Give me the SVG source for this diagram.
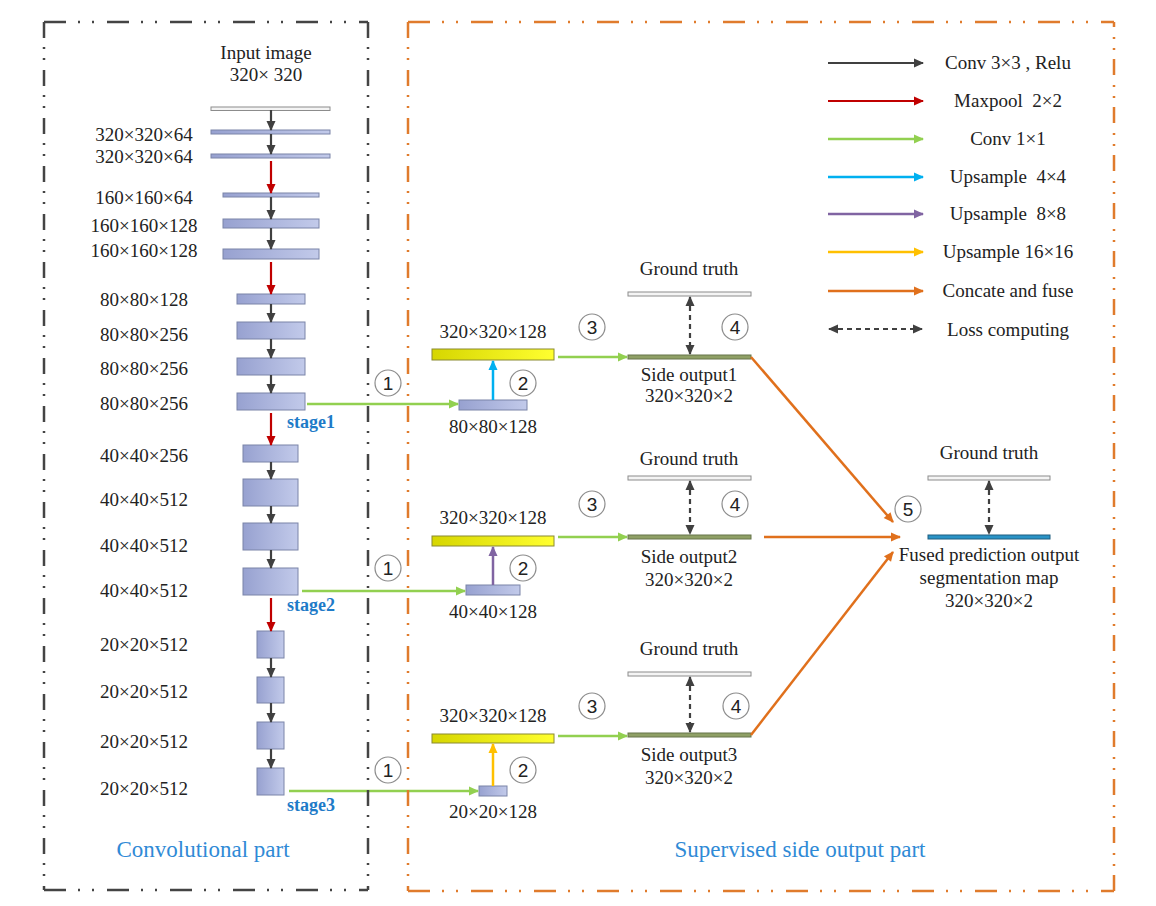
<svg xmlns="http://www.w3.org/2000/svg" width="1156" height="906" viewBox="0 0 1156 906">
<style>
.t{font-family:"Liberation Serif","Times New Roman",serif;font-size:19px;fill:#222;text-anchor:middle;white-space:pre}
.st{font-family:"Liberation Serif","Times New Roman",serif;font-size:18px;font-weight:bold;fill:#1E7BC8;text-anchor:middle}
.part{font-family:"Liberation Serif","Times New Roman",serif;font-size:23px;fill:#2F8AD6;text-anchor:middle}
.num{font-family:"Liberation Sans",Arial,sans-serif;font-size:19px;fill:#222;text-anchor:middle}
.blk{fill:url(#gb);stroke:#7A84A8;stroke-width:1}
.yel{fill:url(#gy);stroke:#8A8A30;stroke-width:1}
.gt{fill:#F4F4F4;stroke:#8C8C8C;stroke-width:1}
.so{fill:#8FA066;stroke:#66744A;stroke-width:1}
.fo{fill:#2A93C6;stroke:#1F5E80;stroke-width:1}
.cir{fill:#fff;stroke:#8C8C8C;stroke-width:1.2}
.k{stroke:#404040;stroke-width:2.2;fill:none;marker-end:url(#ak)}
.r{stroke:#C00000;stroke-width:2.2;fill:none;marker-end:url(#ar)}
.g{stroke:#92D050;stroke-width:2.5;fill:none;marker-end:url(#ag)}
.b{stroke:#00B0F0;stroke-width:2.5;fill:none;marker-end:url(#ab)}
.p{stroke:#8064A2;stroke-width:2.5;fill:none;marker-end:url(#ap)}
.y{stroke:#FFC000;stroke-width:2.5;fill:none;marker-end:url(#ay)}
.o{stroke:#E0701C;stroke-width:2.5;fill:none;marker-end:url(#ao)}
.l{stroke:#404040;stroke-width:2.2;fill:none;stroke-dasharray:5 4;marker-end:url(#ak);marker-start:url(#ak)}
.bl{stroke:#444;stroke-width:2.5;fill:none}
.bo{stroke:#E07B2C;stroke-width:2.5;fill:none}
.h{stroke-dasharray:22 12 2 12 2 13}
.v{stroke-dasharray:16 9 2 9 2 10}
</style>
<defs>
<linearGradient id="gb" x1="0" y1="0" x2="1" y2="0"><stop offset="0" stop-color="#97A1D0"/><stop offset="1" stop-color="#C2CAEA"/></linearGradient>
<linearGradient id="gy" x1="0" y1="0" x2="1" y2="0"><stop offset="0" stop-color="#D6D600"/><stop offset="1" stop-color="#FFFF30"/></linearGradient>
<marker id="ak" viewBox="0 0 10 10" refX="9" refY="5" markerWidth="11" markerHeight="10" markerUnits="userSpaceOnUse" orient="auto-start-reverse"><path d="M0,0.5 L10,5 L0,9.5 z" fill="#404040"/></marker>
<marker id="ar" viewBox="0 0 10 10" refX="9" refY="5" markerWidth="11" markerHeight="10" markerUnits="userSpaceOnUse" orient="auto"><path d="M0,0.5 L10,5 L0,9.5 z" fill="#C00000"/></marker>
<marker id="ag" viewBox="0 0 10 10" refX="9" refY="5" markerWidth="12" markerHeight="10" markerUnits="userSpaceOnUse" orient="auto"><path d="M0,0.5 L10,5 L0,9.5 z" fill="#92D050"/></marker>
<marker id="ab" viewBox="0 0 10 10" refX="9" refY="5" markerWidth="12" markerHeight="10" markerUnits="userSpaceOnUse" orient="auto"><path d="M0,0.5 L10,5 L0,9.5 z" fill="#00B0F0"/></marker>
<marker id="ap" viewBox="0 0 10 10" refX="9" refY="5" markerWidth="12" markerHeight="10" markerUnits="userSpaceOnUse" orient="auto"><path d="M0,0.5 L10,5 L0,9.5 z" fill="#8064A2"/></marker>
<marker id="ay" viewBox="0 0 10 10" refX="9" refY="5" markerWidth="12" markerHeight="10" markerUnits="userSpaceOnUse" orient="auto"><path d="M0,0.5 L10,5 L0,9.5 z" fill="#FFC000"/></marker>
<marker id="ao" viewBox="0 0 10 10" refX="9" refY="5" markerWidth="12" markerHeight="10" markerUnits="userSpaceOnUse" orient="auto"><path d="M0,0.5 L10,5 L0,9.5 z" fill="#E0701C"/></marker>
</defs>
<rect width="1156" height="906" fill="#fff"/>

<g id="input">
<text class="t" x="266" y="59">Input image</text>
<text class="t" x="266" y="81">320× 320</text>
<rect class="gt" x="211" y="107" width="119" height="3.5"/>
</g>
<g id="l1"><rect class="blk" x="211" y="130" width="119" height="4"/><text class="t" x="144" y="141">320×320×64</text></g>
<g id="l2"><rect class="blk" x="211" y="154" width="119" height="4"/><text class="t" x="144" y="163">320×320×64</text></g>
<g id="l3"><rect class="blk" x="223" y="193" width="96" height="4"/><text class="t" x="144" y="204">160×160×64</text></g>
<g id="l4"><rect class="blk" x="223" y="219" width="96" height="9"/><text class="t" x="144" y="232">160×160×128</text></g>
<g id="l5"><rect class="blk" x="223" y="249" width="96" height="10"/><text class="t" x="144" y="257">160×160×128</text></g>
<g id="l6"><rect class="blk" x="237" y="294" width="68" height="10"/><text class="t" x="144" y="306">80×80×128</text></g>
<g id="l7"><rect class="blk" x="237" y="322" width="68" height="17"/><text class="t" x="144" y="341">80×80×256</text></g>
<g id="l8"><rect class="blk" x="237" y="358" width="68" height="17"/><text class="t" x="144" y="375">80×80×256</text></g>
<g id="l9"><rect class="blk" x="237" y="393" width="68" height="17"/><text class="t" x="144" y="410">80×80×256</text><text class="st" x="311" y="428">stage1</text></g>
<g id="l10"><rect class="blk" x="243" y="445" width="55" height="17"/><text class="t" x="144" y="462">40×40×256</text></g>
<g id="l11"><rect class="blk" x="243" y="479" width="55" height="27"/><text class="t" x="144" y="506">40×40×512</text></g>
<g id="l12"><rect class="blk" x="243" y="523" width="55" height="27"/><text class="t" x="144" y="552">40×40×512</text></g>
<g id="l13"><rect class="blk" x="243" y="568" width="55" height="27"/><text class="t" x="144" y="597">40×40×512</text><text class="st" x="311" y="611">stage2</text></g>
<g id="l14"><rect class="blk" x="257" y="631" width="27" height="27"/><text class="t" x="144" y="651">20×20×512</text></g>
<g id="l15"><rect class="blk" x="257" y="677" width="27" height="26"/><text class="t" x="144" y="698">20×20×512</text></g>
<g id="l16"><rect class="blk" x="257" y="722" width="27" height="27"/><text class="t" x="144" y="748">20×20×512</text></g>
<g id="l17"><rect class="blk" x="257" y="768" width="27" height="27"/><text class="t" x="144" y="795">20×20×512</text><text class="st" x="311" y="811">stage3</text></g>

<g id="s1small"><rect class="blk" x="459" y="400" width="68" height="10"/><text class="t" x="493" y="433">80×80×128</text></g>
<g id="s2small"><rect class="blk" x="466" y="585" width="54" height="10"/><text class="t" x="493" y="618">40×40×128</text></g>
<g id="s3small"><rect class="blk" x="479" y="786" width="28" height="10"/><text class="t" x="493" y="818">20×20×128</text></g>
<g id="s1up"><rect class="yel" x="432" y="349" width="122" height="11"/><text class="t" x="493" y="338">320×320×128</text></g>
<g id="s2up"><rect class="yel" x="432" y="536" width="122" height="10"/><text class="t" x="493" y="524">320×320×128</text></g>
<g id="s3up"><rect class="yel" x="432" y="734" width="122" height="9"/><text class="t" x="493" y="722">320×320×128</text></g>

<g id="gt1"><text class="t" x="689" y="275">Ground truth</text><rect class="gt" x="628" y="292" width="123" height="4"/></g>
<g id="so1"><rect class="so" x="628" y="355" width="123" height="4"/><text class="t" x="689" y="381">Side output1</text><text class="t" x="689" y="402">320×320×2</text></g>
<g id="gt2"><text class="t" x="689" y="465">Ground truth</text><rect class="gt" x="628" y="476" width="123" height="4"/></g>
<g id="so2"><rect class="so" x="628" y="535" width="123" height="4"/><text class="t" x="689" y="563">Side output2</text><text class="t" x="689" y="586">320×320×2</text></g>
<g id="gt3"><text class="t" x="689" y="655">Ground truth</text><rect class="gt" x="628" y="672" width="123" height="4"/></g>
<g id="so3"><rect class="so" x="628" y="733" width="123" height="4"/><text class="t" x="689" y="761">Side output3</text><text class="t" x="689" y="784">320×320×2</text></g>
<g id="gtf"><text class="t" x="989" y="459">Ground truth</text><rect class="gt" x="928" y="476" width="122" height="4"/></g>
<g id="fused"><rect class="fo" x="928" y="535" width="122" height="4"/><text class="t" x="989" y="561">Fused prediction output</text><text class="t" x="989" y="584">segmentation map</text><text class="t" x="989" y="607">320×320×2</text></g>

<g id="steps">
<circle class="cir" cx="388" cy="383" r="13"/><text class="num" x="388" y="390">1</text>
<circle class="cir" cx="523" cy="383" r="13"/><text class="num" x="523" y="390">2</text>
<circle class="cir" cx="388" cy="568" r="13"/><text class="num" x="388" y="575">1</text>
<circle class="cir" cx="523" cy="568" r="13"/><text class="num" x="523" y="575">2</text>
<circle class="cir" cx="388" cy="770" r="13"/><text class="num" x="388" y="777">1</text>
<circle class="cir" cx="523" cy="770" r="13"/><text class="num" x="523" y="777">2</text>
<circle class="cir" cx="592" cy="327" r="13"/><text class="num" x="592" y="334">3</text>
<circle class="cir" cx="735" cy="327" r="13"/><text class="num" x="735" y="334">4</text>
<circle class="cir" cx="592" cy="504" r="13"/><text class="num" x="592" y="511">3</text>
<circle class="cir" cx="735" cy="504" r="13"/><text class="num" x="735" y="511">4</text>
<circle class="cir" cx="592" cy="706" r="13"/><text class="num" x="592" y="713">3</text>
<circle class="cir" cx="736" cy="706" r="13"/><text class="num" x="736" y="713">4</text>
<circle class="cir" cx="908" cy="509" r="13"/><text class="num" x="908" y="516">5</text>
</g>

<g id="connectors">
<line class="k" x1="271" y1="110" x2="271" y2="130"/>
<line class="k" x1="271" y1="134" x2="271" y2="154"/>
<line class="r" x1="271" y1="161" x2="271" y2="193"/>
<line class="k" x1="271" y1="197" x2="271" y2="219"/>
<line class="k" x1="271" y1="228" x2="271" y2="249"/>
<line class="r" x1="271" y1="262" x2="271" y2="294"/>
<line class="k" x1="271" y1="304" x2="271" y2="322"/>
<line class="k" x1="271" y1="339" x2="271" y2="358"/>
<line class="k" x1="271" y1="375" x2="271" y2="393"/>
<line class="r" x1="271" y1="413" x2="271" y2="445"/>
<line class="k" x1="271" y1="462" x2="271" y2="479"/>
<line class="k" x1="271" y1="506" x2="271" y2="523"/>
<line class="k" x1="271" y1="550" x2="271" y2="568"/>
<line class="r" x1="271" y1="598" x2="271" y2="631"/>
<line class="k" x1="271" y1="658" x2="271" y2="677"/>
<line class="k" x1="271" y1="703" x2="271" y2="722"/>
<line class="k" x1="271" y1="749" x2="271" y2="768"/>
<line class="g" x1="307" y1="404" x2="458" y2="404"/>
<line class="g" x1="302" y1="591" x2="465" y2="591"/>
<line class="g" x1="289" y1="791" x2="478" y2="791"/>
<line class="b" x1="493" y1="400" x2="493" y2="361"/>
<line class="p" x1="493" y1="585" x2="493" y2="547"/>
<line class="y" x1="493" y1="786" x2="493" y2="744"/>
<line class="g" x1="558" y1="357" x2="627" y2="357"/>
<line class="g" x1="558" y1="537" x2="627" y2="537"/>
<line class="g" x1="558" y1="736" x2="627" y2="736"/>
<line class="l" x1="690" y1="297" x2="690" y2="354"/>
<line class="l" x1="690" y1="481" x2="690" y2="534"/>
<line class="l" x1="690" y1="677" x2="690" y2="732"/>
<line class="l" x1="989" y1="481" x2="989" y2="534"/>
<line class="o" x1="751" y1="357" x2="893" y2="522"/>
<line class="o" x1="764" y1="537" x2="900" y2="537"/>
<line class="o" x1="751" y1="735" x2="893" y2="552"/>
</g>

<g id="legend">
<line class="k" x1="828" y1="63" x2="923" y2="63"/><text class="t" x="1008" y="69">Conv 3×3 , Relu</text>
<line class="r" x1="828" y1="101" x2="923" y2="101"/><text class="t" x="1008" y="107">Maxpool  2×2</text>
<line class="g" x1="828" y1="139" x2="923" y2="139"/><text class="t" x="1008" y="145">Conv 1×1</text>
<line class="b" x1="828" y1="177" x2="923" y2="177"/><text class="t" x="1008" y="183">Upsample  4×4</text>
<line class="p" x1="828" y1="214" x2="923" y2="214"/><text class="t" x="1008" y="220">Upsample  8×8</text>
<line class="y" x1="828" y1="252" x2="923" y2="252"/><text class="t" x="1008" y="258">Upsample 16×16</text>
<line class="o" x1="828" y1="291" x2="923" y2="291"/><text class="t" x="1008" y="297">Concate and fuse</text>
<line class="l" x1="829" y1="329" x2="922" y2="329"/><text class="t" x="1008" y="336">Loss computing</text>
</g>

<g id="convpart">
<line class="bl h" x1="44" y1="22" x2="368" y2="22"/>
<line class="bl h" x1="44" y1="890" x2="368" y2="890"/>
<line class="bl v" x1="44" y1="22" x2="44" y2="890"/>
<line class="bl v" x1="368" y1="22" x2="368" y2="890"/>
<text class="part" x="203" y="857">Convolutional part</text>
</g>
<g id="sidepart">
<line class="bo h" x1="408" y1="22" x2="1114" y2="22"/>
<line class="bo h" x1="408" y1="891" x2="1114" y2="891"/>
<line class="bo v" x1="408" y1="22" x2="408" y2="891"/>
<line class="bo v" x1="1114" y1="891" x2="1114" y2="22"/>
<text class="part" x="800" y="857">Supervised side output part</text>
</g>
</svg>
